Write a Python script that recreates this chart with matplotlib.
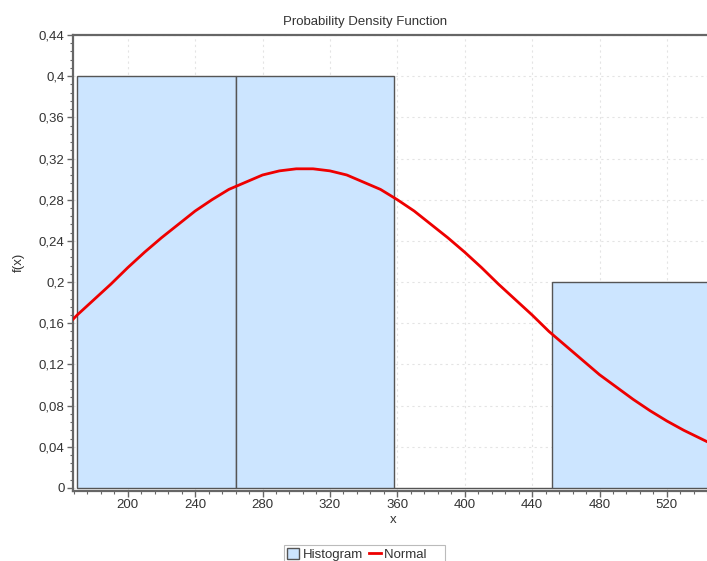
import matplotlib.pyplot as plt
from matplotlib.ticker import MultipleLocator, FuncFormatter
from matplotlib.patches import Patch
from matplotlib.lines import Line2D

# histogram (relative frequencies per bin)
BIN_EDGES = [170, 264, 358, 452, 546]
BIN_HEIGHTS = [0.4, 0.4, 0.0, 0.2]

# fitted normal curve
CURVE_X = [167, 170, 180, 190, 200, 210, 220, 230, 240, 250, 260, 270, 280, 290,
           300, 310, 320, 330, 340, 350, 360, 370, 380, 390, 400, 410, 420, 430,
           440, 450, 460, 470, 480, 490, 500, 510, 520, 530, 540, 545]
CURVE_Y = [0.163, 0.168, 0.183, 0.198, 0.214, 0.229, 0.243, 0.256, 0.269, 0.280,
           0.290, 0.297, 0.304, 0.308, 0.310, 0.310, 0.308, 0.304, 0.297, 0.290,
           0.280, 0.269, 0.256, 0.243, 0.229, 0.214, 0.198, 0.183, 0.168, 0.152,
           0.138, 0.124, 0.110, 0.098, 0.086, 0.075, 0.065, 0.056, 0.048, 0.044]

TITLE = "Probability Density Function"

FILL = "#cce5ff"
EDGE = "#555555"
TXT = "#333333"
FS = 9.5

plt.rcParams['font.family'] = ['Liberation Sans', 'DejaVu Sans']

fig = plt.figure(figsize=(7.07, 5.61), dpi=100)
ax = fig.add_axes([73 / 707, 1 - 491 / 561, 1 - 73 / 707 + 0.01, (491 - 35) / 561])

widths = [b - a for a, b in zip(BIN_EDGES[:-1], BIN_EDGES[1:])]
ax.bar(BIN_EDGES[:-1], BIN_HEIGHTS, width=widths, align='edge',
       color=FILL, edgecolor=EDGE, linewidth=1.0, zorder=2)
ax.plot(CURVE_X, CURVE_Y, color='#ee0000', linewidth=2, zorder=3)

ax.set_xlim(167.5, 548)
ax.set_ylim(-0.003, 0.44)

ax.xaxis.set_major_locator(MultipleLocator(40))
ax.xaxis.set_minor_locator(MultipleLocator(8))
ax.yaxis.set_major_locator(MultipleLocator(0.04))
ax.yaxis.set_minor_locator(MultipleLocator(0.008))


def comma_fmt(v, pos):
    s = f"{v:.2f}".rstrip('0').rstrip('.')
    return s.replace('.', ',')


ax.yaxis.set_major_formatter(FuncFormatter(comma_fmt))

ax.grid(True, which='major', color='#e4e4e4', linestyle=(0, (2, 3)), linewidth=0.8, zorder=0)
ax.set_axisbelow(True)

ax.spines['right'].set_visible(False)
for side in ['left', 'bottom', 'top']:
    ax.spines[side].set_color('#666666')
    ax.spines[side].set_linewidth(1.6)

ax.tick_params(which='major', length=4, width=1, color='#666666', labelsize=FS,
               labelcolor=TXT, pad=2)
ax.tick_params(which='minor', length=2, width=0.8, color='#666666')

fig.text(365 / 707, 1 - 22 / 561, TITLE, fontsize=FS, color=TXT, ha='center', va='center')
ax.set_xlabel("x", fontsize=FS, color=TXT, labelpad=2)
fig.text(19 / 707, 1 - 262 / 561, "f(x)", fontsize=FS, color=TXT, rotation=90,
         ha='center', va='center')

handles = [Patch(facecolor=FILL, edgecolor=EDGE, linewidth=1),
           Line2D([0], [0], color='#ee0000', linewidth=2)]
leg = fig.legend(handles, ["Histogram", "Normal    "], ncol=2, loc='upper left',
                 bbox_to_anchor=(284 / 707, 1 - 545 / 561), fontsize=FS,
                 frameon=True, fancybox=False, handlelength=0.9, handleheight=0.9,
                 handletextpad=0.3, columnspacing=0.4, borderpad=0.25,
                 borderaxespad=0)
leg.get_frame().set_edgecolor('#aaaaaa')
leg.get_frame().set_linewidth(0.8)
for t in leg.get_texts():
    t.set_color(TXT)

fig.savefig("out.png", dpi=100)
